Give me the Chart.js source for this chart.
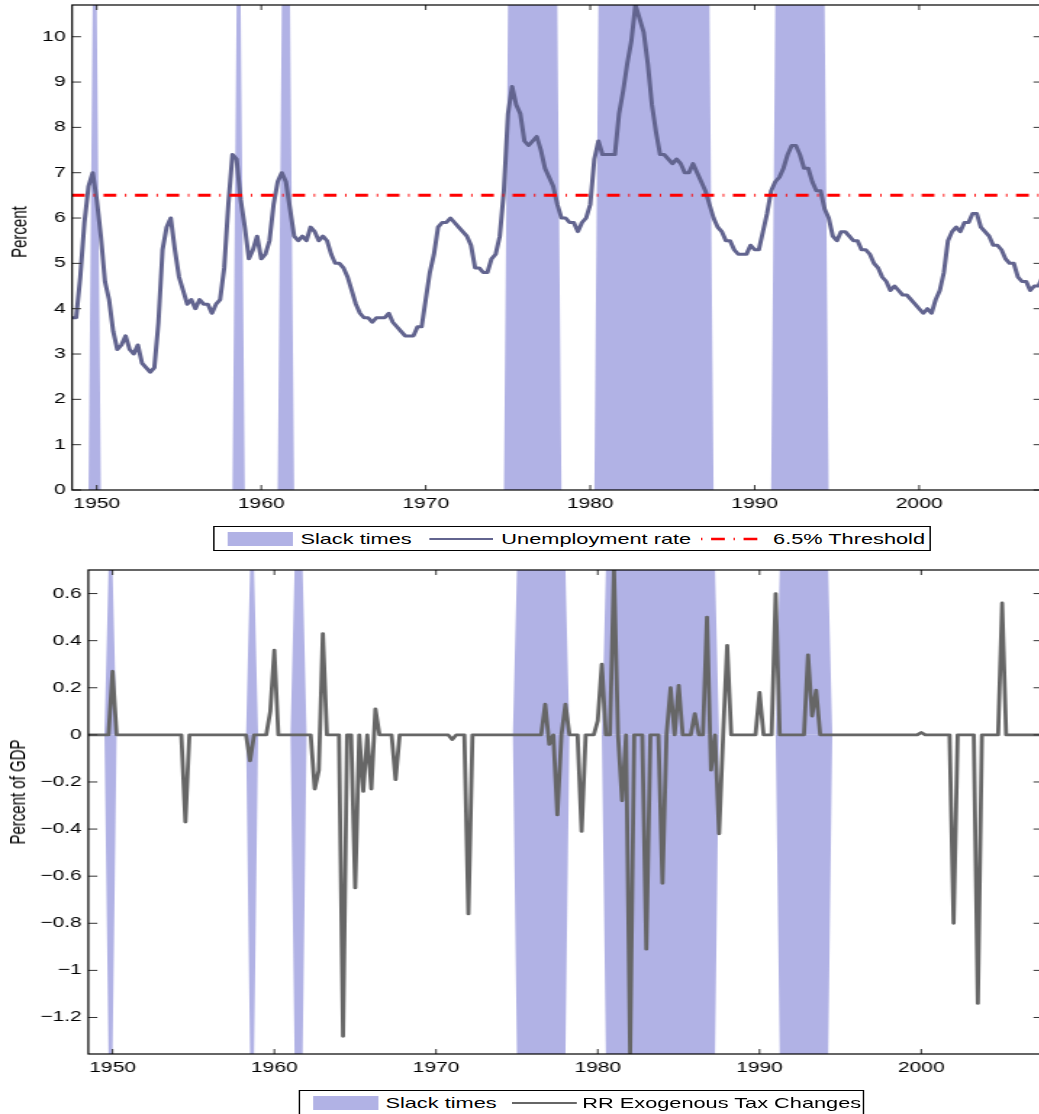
<!DOCTYPE html>
<html>
<head>
<meta charset="utf-8">
<title>Slack times, unemployment rate and RR exogenous tax changes</title>
<script src="https://cdn.jsdelivr.net/npm/chart.js@4.4.1/dist/chart.umd.min.js"></script>
<style>
  html, body { margin: 0; padding: 0; background: #fff; }
  body { width: 1039px; height: 1114px; overflow: hidden; position: relative;
         font-family: "Liberation Sans", Arial, sans-serif; }
  /* the reference is stretched sideways, so the whole figure is drawn narrow and scaled */
  #stage { position: absolute; left: 0; top: 0; width: 720px; height: 1114px;
           transform: scaleX(1.45); transform-origin: 0 0; }
  #stage canvas { position: absolute; left: 0; }
  #topChart { top: 0; }
  #taxChart { top: 560px; }
  .ytitle { position: absolute; font-size: 15px; white-space: nowrap; color: #000;
            transform: translate(-50%, -50%) rotate(-90deg); }
  .legend { position: absolute; height: 23px; border: 1px solid #000; background: #fff;
            display: flex; align-items: center; font-size: 15px; white-space: nowrap; color: #000; }
  .patch { display: inline-block; width: 45.5px; height: 14px; background: rgb(177, 178, 229); }
</style>
</head>
<body>
<div id="stage">
  <canvas id="topChart" width="720" height="512"></canvas>
  <div class="ytitle" style="left:12.8px; top:232px;">Percent</div>
  <div class="legend" style="left:146.9px; top:526px;">
    <span class="patch" style="margin-left:9px"></span>
    <span style="margin-left:4.8px">Slack times</span>
    <svg width="44" height="6" style="margin-left:12.4px"><line x1="0" y1="3" x2="44" y2="3" stroke="#62648f" stroke-width="2"/></svg>
    <span style="margin-left:5.5px">Unemployment rate</span>
    <svg width="45.5" height="6" style="margin-left:6.2px"><line x1="0.5" y1="3" x2="45.5" y2="3" stroke="#ff0000" stroke-width="2.5" stroke-dasharray="0.9 6 9.5 6"/></svg>
    <span style="margin-left:4.8px; margin-right:2.8px">6.5% Threshold</span>
  </div>

  <canvas id="taxChart" width="720" height="516"></canvas>
  <div class="ytitle" style="left:12.4px; top:792px;">Percent of GDP</div>
  <div class="legend" style="left:205.5px; top:1090px;">
    <span class="patch" style="margin-left:9px"></span>
    <span style="margin-left:4.8px">Slack times</span>
    <svg width="44.8" height="6" style="margin-left:10.3px"><line x1="0" y1="3" x2="44.8" y2="3" stroke="#666666" stroke-width="2"/></svg>
    <span style="margin-left:4px; margin-right:1px">RR Exogenous Tax Changes</span>
  </div>
</div>

<script>
// --- Data (quarterly) ---
const firstQuarter = 1948.5; // 1948 Q3
const quarterStep = 0.25;

const unemploymentRate = [
  3.8, 3.8,              // 1948 Q3-Q4
  4.7, 5.9, 6.7, 7.0,    // 1949
  6.4, 5.6, 4.6, 4.2,    // 1950
  3.5, 3.1, 3.2, 3.4,    // 1951
  3.1, 3.0, 3.2, 2.8,    // 1952
  2.7, 2.6, 2.7, 3.7,    // 1953
  5.3, 5.8, 6.0, 5.3,    // 1954
  4.7, 4.4, 4.1, 4.2,    // 1955
  4.0, 4.2, 4.1, 4.1,    // 1956
  3.9, 4.1, 4.2, 4.9,    // 1957
  6.3, 7.4, 7.3, 6.4,    // 1958
  5.8, 5.1, 5.3, 5.6,    // 1959
  5.1, 5.2, 5.5, 6.3,    // 1960
  6.8, 7.0, 6.8, 6.2,    // 1961
  5.6, 5.5, 5.6, 5.5,    // 1962
  5.8, 5.7, 5.5, 5.6,    // 1963
  5.5, 5.2, 5.0, 5.0,    // 1964
  4.9, 4.7, 4.4, 4.1,    // 1965
  3.9, 3.8, 3.8, 3.7,    // 1966
  3.8, 3.8, 3.8, 3.9,    // 1967
  3.7, 3.6, 3.5, 3.4,    // 1968
  3.4, 3.4, 3.6, 3.6,    // 1969
  4.2, 4.8, 5.2, 5.8,    // 1970
  5.9, 5.9, 6.0, 5.9,    // 1971
  5.8, 5.7, 5.6, 5.4,    // 1972
  4.9, 4.9, 4.8, 4.8,    // 1973
  5.1, 5.2, 5.6, 6.6,    // 1974
  8.3, 8.9, 8.5, 8.3,    // 1975
  7.7, 7.6, 7.7, 7.8,    // 1976
  7.5, 7.1, 6.9, 6.7,    // 1977
  6.3, 6.0, 6.0, 5.9,    // 1978
  5.9, 5.7, 5.9, 6.0,    // 1979
  6.3, 7.3, 7.7, 7.4,    // 1980
  7.4, 7.4, 7.4, 8.3,    // 1981
  8.8, 9.4, 9.9, 10.7,   // 1982
  10.4, 10.1, 9.4, 8.5,  // 1983
  7.9, 7.4, 7.4, 7.3,    // 1984
  7.2, 7.3, 7.2, 7.0,    // 1985
  7.0, 7.2, 7.0, 6.8,    // 1986
  6.6, 6.3, 6.0, 5.8,    // 1987
  5.7, 5.5, 5.5, 5.3,    // 1988
  5.2, 5.2, 5.2, 5.4,    // 1989
  5.3, 5.3, 5.7, 6.1,    // 1990
  6.6, 6.8, 6.9, 7.1,    // 1991
  7.4, 7.6, 7.6, 7.4,    // 1992
  7.1, 7.1, 6.8, 6.6,    // 1993
  6.6, 6.2, 6.0, 5.6,    // 1994
  5.5, 5.7, 5.7, 5.6,    // 1995
  5.5, 5.5, 5.3, 5.3,    // 1996
  5.2, 5.0, 4.9, 4.7,    // 1997
  4.6, 4.4, 4.5, 4.4,    // 1998
  4.3, 4.3, 4.2, 4.1,    // 1999
  4.0, 3.9, 4.0, 3.9,    // 2000
  4.2, 4.4, 4.8, 5.5,    // 2001
  5.7, 5.8, 5.7, 5.9,    // 2002
  5.9, 6.1, 6.1, 5.8,    // 2003
  5.7, 5.6, 5.4, 5.4,    // 2004
  5.3, 5.1, 5.0, 5.0,    // 2005
  4.7, 4.6, 4.6, 4.4,    // 2006
  4.5, 4.5, 4.7          // 2007 Q1-Q3
];

const rrTaxChanges = [
  0, 0,                  // 1948 Q3-Q4
  0, 0, 0, 0,            // 1949
  0.27, 0, 0, 0,         // 1950
  0, 0, 0, 0,            // 1951
  0, 0, 0, 0,            // 1952
  0, 0, 0, 0,            // 1953
  0, 0, -0.37, 0,        // 1954
  0, 0, 0, 0,            // 1955
  0, 0, 0, 0,            // 1956
  0, 0, 0, 0,            // 1957
  0, 0, -0.11, 0,        // 1958
  0, 0, 0, 0.10,         // 1959
  0.36, 0, 0, 0,         // 1960
  0, 0, 0, 0,            // 1961
  0, 0, -0.23, -0.15,    // 1962
  0.43, 0, 0, 0,         // 1963
  0, -1.28, 0, 0,        // 1964
  -0.65, 0, -0.24, 0,    // 1965
  -0.23, 0.11, 0, 0,     // 1966
  0, 0, -0.19, 0,        // 1967
  0, 0, 0, 0,            // 1968
  0, 0, 0, 0,            // 1969
  0, 0, 0, 0,            // 1970
  -0.02, 0, 0, 0,        // 1971
  -0.76, 0, 0, 0,        // 1972
  0, 0, 0, 0,            // 1973
  0, 0, 0, 0,            // 1974
  0, 0, 0, 0,            // 1975
  0, 0, 0, 0.13,         // 1976
  -0.04, 0, -0.34, 0,    // 1977
  0.13, 0, 0, 0,         // 1978
  -0.41, 0, 0, 0,        // 1979
  0.06, 0.30, 0, 0,      // 1980
  0.70, 0, -0.28, 0,     // 1981
  -1.35, 0, 0, 0,        // 1982
  -0.91, 0, 0, 0,        // 1983
  -0.63, 0, 0.20, 0,     // 1984
  0.21, 0, 0, 0,         // 1985
  0.09, 0, 0, 0.50,      // 1986
  -0.15, 0, -0.42, 0,    // 1987
  0.38, 0, 0, 0,         // 1988
  0, 0, 0, 0,            // 1989
  0.18, 0, 0, 0,         // 1990
  0.60, 0, 0, 0,         // 1991
  0, 0, 0, 0,            // 1992
  0.34, 0.08, 0.19, 0,   // 1993
  0, 0, 0, 0,            // 1994
  0, 0, 0, 0,            // 1995
  0, 0, 0, 0,            // 1996
  0, 0, 0, 0,            // 1997
  0, 0, 0, 0,            // 1998
  0, 0, 0, 0,            // 1999
  0.01, 0, 0, 0,         // 2000
  0, 0, 0, 0,            // 2001
  -0.80, 0, 0, 0,        // 2002
  0, 0, -1.14, 0,        // 2003
  0, 0, 0, 0,            // 2004
  0.56, 0, 0, 0,         // 2005
  0, 0, 0, 0,            // 2006
  0, 0, 0                // 2007 Q1-Q3
];

// first and last slack quarter of each episode
const slackPeriods = [
  [1949.75, 1950.0],
  [1958.5, 1958.75],
  [1961.25, 1961.75],
  [1975.0, 1978.0],
  [1980.5, 1987.25],
  [1991.25, 1994.25]
];
const threshold = 6.5;

// --- Axes ---
const xTickYears = [1950, 1960, 1970, 1980, 1990, 2000];
const yTicksTop = [0, 1, 2, 3, 4, 5, 6, 7, 8, 9, 10];
const yTicksTax = [-1.2, -1, -0.8, -0.6, -0.4, -0.2, 0, 0.2, 0.4, 0.6];
const xRange = [1948.5, 2007.5];
const topRange = [0, 10.7];
const taxRange = [-1.355, 0.7];

// --- Styles ---
const slackColor = "rgb(177, 178, 229)";
const unempColor = "#62648f";
const taxColor = "#666666";
const tickFont = { family: "'Liberation Sans', Arial, sans-serif", size: 14.5 };

document.addEventListener("DOMContentLoaded", function () {
  const quarters = unemploymentRate.map((_, i) => firstQuarter + i * quarterStep);
  const isSlack = quarters.map((q) =>
    slackPeriods.some(([s, e]) => q >= s - 1e-6 && q <= e + 1e-6)
  );

  function toPoints(values) {
    return values.map((v, i) => ({ x: quarters[i], y: v }));
  }
  // matlab-style area: full height on slack quarters, zero elsewhere
  function slackBand(level) {
    return quarters.map((q, i) => ({ x: q, y: isSlack[i] ? level : 0 }));
  }

  // box round the plot with inward ticks on all four sides
  const matlabBox = {
    id: "matlabBox",
    afterDatasetsDraw(chart) {
      const { ctx, chartArea: a, scales } = chart;
      ctx.save();
      ctx.strokeStyle = "#333";
      ctx.lineWidth = 1;
      ctx.beginPath();
      scales.x.ticks.forEach((t) => {
        const px = scales.x.getPixelForValue(t.value);
        ctx.moveTo(px, a.bottom);
        ctx.lineTo(px, a.bottom - 5);
        ctx.moveTo(px, a.top);
        ctx.lineTo(px, a.top + 5);
      });
      scales.y.ticks.forEach((t) => {
        const py = scales.y.getPixelForValue(t.value);
        ctx.moveTo(a.left, py);
        ctx.lineTo(a.left + 6.2, py);
        ctx.moveTo(a.right, py);
        ctx.lineTo(a.right - 6.2, py);
      });
      ctx.stroke();
      ctx.strokeStyle = "#000";
      ctx.lineWidth = 1.2;
      ctx.strokeRect(a.left, a.top, a.right - a.left, a.bottom - a.top);
      ctx.restore();
    },
  };

  function xScale() {
    return {
      type: "linear",
      min: xRange[0],
      max: xRange[1],
      grid: { display: false, drawTicks: false },
      border: { display: false },
      afterBuildTicks: (s) => { s.ticks = xTickYears.map((v) => ({ value: v })); },
      afterFit: (s) => {
        s.height = 22;
        s.paddingLeft = 0;
        s.paddingRight = 0;
      },
      ticks: {
        autoSkip: false, maxRotation: 0, minRotation: 0, padding: 5,
        color: "#000", font: tickFont,
        callback: (v) => String(v),
      },
    };
  }

  function yScale(range, tickValues, width) {
    return {
      type: "linear",
      min: range[0],
      max: range[1],
      grid: { display: false, drawTicks: false },
      border: { display: false },
      afterBuildTicks: (s) => { s.ticks = tickValues.map((v) => ({ value: v })); },
      afterFit: (s) => {
        s.width = width;
        s.paddingTop = 0;
        s.paddingBottom = 0;
      },
      ticks: {
        autoSkip: false, padding: 4.5, color: "#000", font: tickFont,
        callback: (v) => String(v).replace("-", "\u2212"),
      },
    };
  }

  const baseOptions = {
    responsive: false,
    animation: false,
    events: [],
    plugins: { legend: { display: false }, tooltip: { enabled: false } },
    elements: { line: { tension: 0 }, point: { radius: 0 } },
  };

  // --- Top panel: unemployment rate ---
  new Chart(document.getElementById("topChart"), {
    type: "line",
    data: {
      datasets: [
        {
          label: "Slack times",
          data: slackBand(topRange[1]),
          fill: "origin",
          backgroundColor: slackColor,
          borderWidth: 0,
          order: 3,
        },
        {
          label: "Unemployment rate",
          data: toPoints(unemploymentRate),
          borderColor: unempColor,
          borderWidth: 3,
          borderJoinStyle: "round",
          fill: false,
          order: 2,
        },
        {
          label: "6.5% Threshold",
          data: [{ x: xRange[0], y: threshold }, { x: xRange[1], y: threshold }],
          borderColor: "#ff0000",
          borderWidth: 3,
          borderDash: [8.8, 6, 0.9, 6],
          fill: false,
          order: 1,
        },
      ],
    },
    options: Object.assign({}, baseOptions, {
      layout: { padding: { top: 5, right: 1, left: 0, bottom: 0 } },
      scales: { x: xScale(), y: yScale(topRange, yTicksTop, 49.7) },
    }),
    plugins: [matlabBox],
  });

  // --- Bottom panel: RR exogenous tax changes ---
  new Chart(document.getElementById("taxChart"), {
    type: "line",
    data: {
      datasets: [
        {
          label: "Slack times",
          data: slackBand(taxRange[1]),
          fill: "origin",
          backgroundColor: slackColor,
          borderWidth: 0,
          order: 3,
        },
        {
          label: "Slack times (below zero)",
          data: slackBand(taxRange[0]),
          fill: "origin",
          backgroundColor: slackColor,
          borderWidth: 0,
          order: 3,
        },
        {
          label: "RR Exogenous Tax Changes",
          data: toPoints(rrTaxChanges),
          borderColor: taxColor,
          borderWidth: 2.8,
          borderJoinStyle: "round",
          fill: false,
          order: 1,
        },
      ],
    },
    options: Object.assign({}, baseOptions, {
      layout: { padding: { top: 10, right: 1, left: 0, bottom: 0 } },
      scales: { x: xScale(), y: yScale(taxRange, yTicksTax, 60.9) },
    }),
    plugins: [matlabBox],
  });
}); // DOMContentLoaded end
</script>
</body>
</html>
